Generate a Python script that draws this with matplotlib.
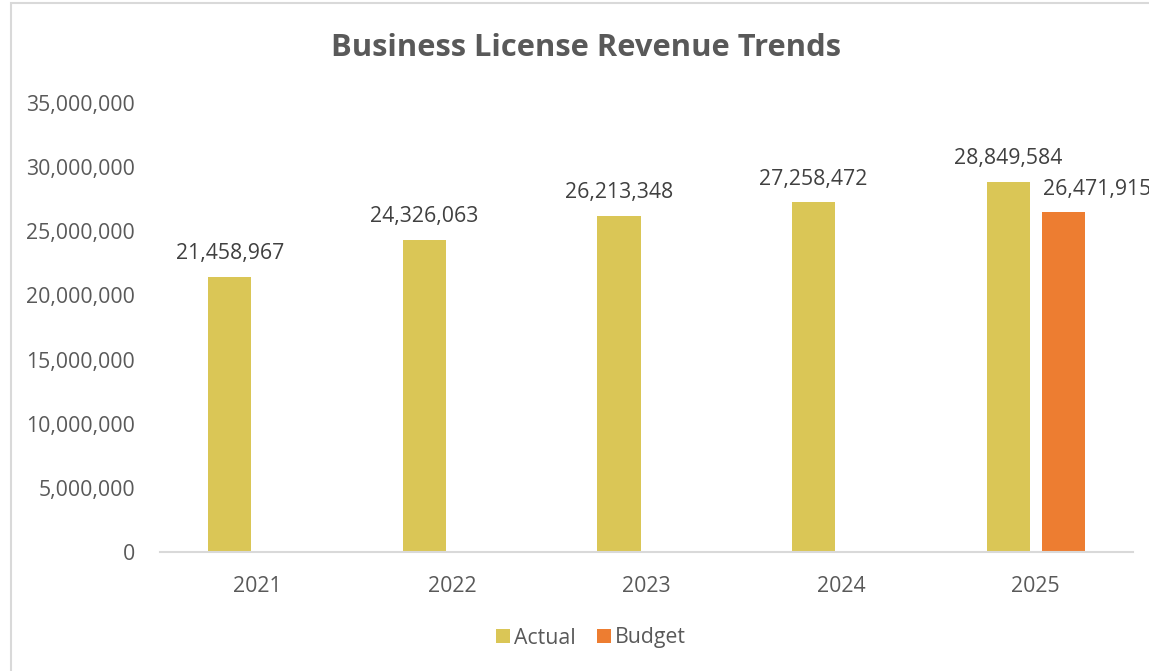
import matplotlib
matplotlib.use("Agg")
import matplotlib.pyplot as plt
from matplotlib.patches import Rectangle
from matplotlib.ticker import FuncFormatter, MultipleLocator
import numpy as np

years = ["2021", "2022", "2023", "2024", "2025"]
actual = [21458967, 24326063, 26213348, 27258472, 28849584]
budget = [None, None, None, None, 26471915]

ACTUAL_COLOR = "#DAC656"
BUDGET_COLOR = "#ED7D31"
TEXT_COLOR = "#595959"
LINE_COLOR = "#D9D9D9"

plt.rcParams["font.family"] = ["Open Sans", "DejaVu Sans"]

fig = plt.figure(figsize=(11.49, 6.71), dpi=100)
ax = fig.add_axes([160 / 1149, 1 - 552 / 671, (1133 - 160) / 1149, (552 - 103) / 671])

x = np.arange(len(years))
width = 0.222
offset = 0.141

act_bars = ax.bar(x - offset, actual, width, color=ACTUAL_COLOR, label="Actual", zorder=2)
bud_x = [xi + offset for xi, v in zip(x, budget) if v is not None]
bud_v = [v for v in budget if v is not None]
bud_bars = ax.bar(bud_x, bud_v, width, color=BUDGET_COLOR, label="Budget", zorder=2)

LABEL_SIZE = 15.3

for b in act_bars:
    h = b.get_height()
    ax.annotate(f"{h:,.0f}", (b.get_x() + b.get_width() / 2, h),
                xytext=(0, 9), textcoords="offset points",
                ha="center", va="bottom", fontsize=LABEL_SIZE, color="#404040",
                annotation_clip=False)

# budget label sits to the right so it does not collide with the actual label
for b in bud_bars:
    h = b.get_height()
    ax.annotate(f"{h:,.0f}", (b.get_x(), h),
                xytext=(1, 9), textcoords="offset points",
                ha="left", va="bottom", fontsize=LABEL_SIZE, color="#404040",
                annotation_clip=False)

ax.set_xlim(-0.5, len(years) - 0.5)
ax.set_ylim(0, 35000000)
ax.yaxis.set_major_locator(MultipleLocator(5000000))
ax.yaxis.set_major_formatter(FuncFormatter(lambda v, _: f"{v:,.0f}"))
ax.set_xticks(x)
ax.set_xticklabels(years)

for s in ("top", "right", "left"):
    ax.spines[s].set_visible(False)
ax.spines["bottom"].set_color(LINE_COLOR)
ax.spines["bottom"].set_linewidth(1.5)
ax.tick_params(axis="both", length=0, labelsize=LABEL_SIZE, colors=TEXT_COLOR)
ax.tick_params(axis="y", pad=18)
ax.tick_params(axis="x", pad=17)

fig.text(586 / 1149, 1 - 48 / 671, "Business License Revenue Trends",
         ha="center", va="center", fontsize=22.2, fontweight="bold", color=TEXT_COLOR)

leg = fig.legend(handles=[act_bars, bud_bars], labels=["Actual", "Budget"],
                 loc="center", bbox_to_anchor=(591 / 1149, 1 - 638 / 671),
                 ncol=2, frameon=False, fontsize=LABEL_SIZE, handlelength=0.65,
                 handleheight=0.65, handletextpad=0.2, columnspacing=1.0)
for t in leg.get_texts():
    t.set_color(TEXT_COLOR)

fig.patches.append(Rectangle((10.5 / 1149, -0.1), 1.2, 1.1 - 3.5 / 671,
                             transform=fig.transFigure, fill=False,
                             edgecolor=LINE_COLOR, linewidth=1.5, zorder=-1))

fig.savefig("out.png", dpi=100, facecolor="white")
